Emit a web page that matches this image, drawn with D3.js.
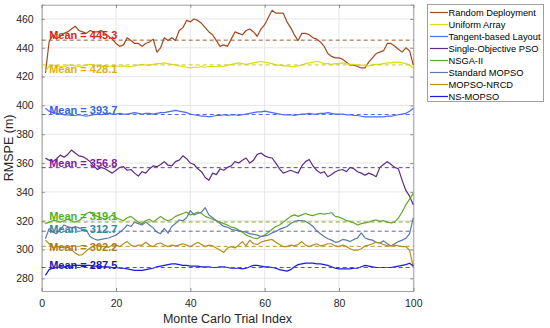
<!DOCTYPE html>
<html><head><meta charset="utf-8">
<script src="https://cdn.jsdelivr.net/npm/d3@7"></script>
<style>body{margin:0;background:#fff}svg{display:block}text{font-family:"Liberation Sans",Arial,Helvetica,sans-serif}</style>
</head><body><svg id="c" width="550" height="328"></svg>
<script>
const seriesNames = ["Random Deployment","Uniform Array","Tangent-based Layout","Single-Objective PSO","NSGA-II","Standard MOPSO","MOPSO-NRCD","NS-MOPSO"];
const meanValues = [445.3, 428.1, 393.7, 356.8, 319.1, 312.7, 302.2, 287.5];
const xTicks = [0,20,40,60,80,100];
const yTicks = [280,300,320,340,360,380,400,420,440,460];
const randomDeployment = [422.5,444,449,446,448,450,451,453,455,452,451,450,452,451,451,452,450,448,446,443,441,442,447,445,443,443,441,443,444,446,437,440,447,445,447,445,452,454,459,458,460,459,457,454,451,449,445,441,442,441,446,451,450,449,452,453,451,448,453,456,461,466,464,464,464,458,454,449,445,450,450,449,447,446,444,441,436,434,433,433,432,430,428,428,427,426,426,430,433,436,437,438,443,443,441,439,437,440,438,428];
const uniformArray = [424,427,428,427.5,427,427,428,428,427.5,427,427.5,428,428.5,428,428,427.5,427,427,427.5,427.5,427,427.5,427,427,427.5,428,428.5,428,428,428.5,429,429,429.5,429,428.5,428,427.5,427,426.5,426,426.5,426.5,427,426.5,427,427,427,427.5,427,428,428.5,429,429.5,429,428.5,429,429.5,430,430.5,430,429.5,429,428,428,427.5,427.5,427,427,427.5,428,429,429.5,430,430.5,430,429,429,428.5,429,429,429.5,429,428.5,428.5,428,428,427.5,427.5,428,428.5,428.5,429,429.5,429.5,430,430,429.5,429,428,426];
const tangentLayout = [398,396,395,394.5,394,393.5,393.5,393,393,393.5,393,392.5,393,393.5,394,393.5,394,394.5,394,394,394.5,394,394,394.5,395,394.5,394,394.5,394.5,394,394.5,395,395,395.5,396,396.5,396,395.5,395,394,393.5,393,392.5,392.5,392,392.5,393,393,393.5,393,393.5,393.5,393,393.5,394,394.5,395,395.5,395.5,396,395.5,395,394.5,394,393.5,393.5,393.5,393,393.5,394,394,394.5,394,394,394.5,394.5,395,394.5,394,394,394,393.5,393.5,393,393,392.5,392,392,392,392,392,392,392.5,392.5,393,393.5,394,394.5,396,398];
const singlePSO = [363.4,362,361,363,365.5,364,366,369,367,365,364.5,363,361,358,355.5,357,356,354.5,353,355,357,357.5,355,355.5,353,351,354,353,356,358,357.5,359,361,358.5,358,361,362,365,363,360,359,356,354,350,348,353,352,356,355,357,358,361,360,362,363.5,360,362,366,367,365,364,363.5,360,356,353,354,355,354,353,358,361,362.5,358,355,353,354,350.5,352,354,355,355.5,354,357,356,354,353,351.5,353,352,350.5,357,359,361,359,357,356,348,341,337,331];
const nsga2 = [318,319,320,320,319,320,321,320,319,320,322,325,326,324,323,322,321,322,324,322,321,320,322,323,321,319,318,320,321,319,321,323,321,320,321,323,324,325,326,324,325,326,325,323,322,321,320,319,318,317,315.5,315,313.5,312,310,309,308,307.5,309,310,312,314,316,317,319,321,323,324,323,324,325,324,323.5,324.5,325,324.5,325,325.5,323,322.5,321.5,320,319.5,318.5,317,318,318.5,319,320,320.5,319.5,320,319,318.5,319,322,326,331,335,339];
const standardMOPSO = [307.5,314.5,312,311,314,317,316,315,316,315,314,313.5,309,307.5,306.5,307,307.5,308,309,310,312,314,317,316,319,318,317,319,317,315,312,311,314.7,311.3,316,318,320.5,320,322,327,324,325,326,329,324,322,320,318,316,315.5,314,313.5,313,312.5,312,311,310.5,310,309,309.5,310,311.5,312.5,314,315,316,318,319.5,320,320,319.5,318,316,313,311,309,307.5,306.5,305,305.5,307,306.5,305.5,307,308,311.5,308,307,306.5,305,304.5,306,304,302.5,304,305.5,306.5,307.8,311,322];
const mopsoNRCD = [306.5,304,301.5,302,302,301,302,300,297.5,296,296.5,299,301,302.5,303,302,302,301.5,303,303,302,304,305.5,303,302,303,303,305,303,302,304,304.5,303,302,303,302.5,303,304,303,302,303.5,305,303.5,302,303,302.5,301,299.5,298,301,302,301,303,305.5,302.5,306.5,304,303.5,305,306,306.5,307,305,303.5,302,302,303,302.5,303.5,305.5,303,302,303,304,302.5,303,304,304,302.5,302,303,302,300.5,299.5,299.5,300.5,302.5,303,304,305,304.5,303.5,302.5,302.5,303,302.5,302,302,299.5,288];
const nsMOPSO = [282,286,287,287.5,288,288,288.5,288.5,289,289,289,289,289,288.5,288.5,288,288,288,287.5,287.5,287,287,286.5,286,285.5,285.5,285.5,286,286.5,287,288,288.5,289,289.5,290,290,289.5,289,289,288.5,288.5,288.5,288,288,288,287.5,287.5,288,288,287.5,287,287,287,286.5,287,288,289,289,288.5,288,288,287.5,287,286,285.5,285,286,288,289.5,290,290.5,290.5,290.5,290,290,289.5,289,288,287,286.5,286.5,286.5,286.5,287,287,288,289,288.5,288,287.5,287.5,287.5,287.5,287.5,288,288.5,289,289.5,290.5,288.5];
const seriesValues = [randomDeployment, uniformArray, tangentLayout, singlePSO, nsga2, standardMOPSO, mopsoNRCD, nsMOPSO];

// styles
const lineColors = ["#a3491f","#dcdc12","#4a6cf0","#5b2a86","#5fa82a","#5a7aa8","#b38f1d","#1a1ae0"];
const dashColors = ["#9a5a2a","#c8c828","#5070e0","#6a3a9a","#88a030","#6262b0","#c09030","#5050c8"];
const labelColors = ["#d9261c","#e0b010","#3366dd","#7e1e9c","#4ab520","#2a8a9f","#b07a18","#1a1ab0"];
const labelOffsets = [-1, 8, 0, -1, -2, 1.5, 5, 1];

const svg = d3.select("#c");
const L = 41.7, R = 413.3, T = 4.7, B = 291;
const x = d3.scaleLinear().domain([0,100]).range([L,R]);
const y = d3.scaleLinear().domain([271.2,469.9]).range([B,T]);

// grid
const g = svg.append("g");
g.selectAll(".gx").data(xTicks).enter().append("line")
  .attr("x1",d=>x(d)).attr("x2",d=>x(d)).attr("y1",T).attr("y2",B)
  .attr("stroke","#e6e6e6").attr("stroke-width",1);
g.selectAll(".gy").data(yTicks).enter().append("line")
  .attr("x1",L).attr("x2",R).attr("y1",d=>y(d)).attr("y2",d=>y(d))
  .attr("stroke","#e6e6e6").attr("stroke-width",1);

// axes
const xAxis = d3.axisBottom(x).tickValues(xTicks).tickSize(-3).tickPadding(9);
const yAxis = d3.axisLeft(y).tickValues(yTicks).tickSize(-3).tickPadding(8);
svg.append("g").attr("transform",`translate(0,${B})`).call(xAxis);
svg.append("g").attr("transform",`translate(${L},0)`).call(yAxis);
svg.append("g").attr("transform",`translate(0,${T})`).call(d3.axisTop(x).tickValues(xTicks).tickSize(-3).tickFormat(""));
svg.append("g").attr("transform",`translate(${R},0)`).call(d3.axisRight(y).tickValues(yTicks).tickSize(-3).tickFormat(""));
svg.selectAll(".domain").attr("stroke","#a0a0a0");
svg.selectAll(".tick line").attr("stroke","#8a8a8a");
svg.selectAll(".tick text").attr("fill","#262626").style("font-size","10.5px");

// series
const line = d3.line().x((d,i)=>x(i+1)).y(d=>y(d));
seriesValues.forEach((vals,k)=>{
  svg.append("path").datum(vals).attr("d",line).attr("fill","none")
    .attr("stroke",lineColors[k]).attr("stroke-width",1.2).attr("stroke-linejoin","round");
});
// mean lines
meanValues.forEach((m,k)=>{
  svg.append("line").attr("x1",x(0)).attr("x2",x(100)).attr("y1",y(m)).attr("y2",y(m))
    .attr("stroke",dashColors[k]).attr("stroke-width",1).attr("stroke-dasharray","4,3");
});
meanValues.forEach((m,k)=>{
  svg.append("text").attr("x",x(2)).attr("y",y(m)+labelOffsets[k])
    .attr("fill",labelColors[k]).style("font-size","11px").style("font-weight","bold")
    .text("Mean = "+m.toFixed(1));
});

// axis labels
svg.append("text").attr("x",(L+R)/2).attr("y",323).attr("text-anchor","middle")
  .attr("fill","#262626").style("font-size","12.5px").text("Monte Carlo Trial Index");
svg.append("text").attr("transform",`translate(13,${(T+B)/2}) rotate(-90)`).attr("text-anchor","middle")
  .attr("fill","#262626").style("font-size","12.5px").text("RMSPE (m)");

// legend
const lg = svg.append("g");
lg.append("rect").attr("x",427.5).attr("y",4.5).attr("width",116).attr("height",97)
  .attr("fill","#fff").attr("stroke","#a0a0a0").attr("stroke-width",1);
seriesNames.forEach((n,k)=>{
  const cy = 12.5 + 12*k;
  lg.append("line").attr("x1",430).attr("x2",448).attr("y1",cy).attr("y2",cy)
    .attr("stroke",lineColors[k]).attr("stroke-width",1.2);
  lg.append("text").attr("x",448.5).attr("y",cy).attr("dy","0.35em")
    .attr("fill","#000").style("font-size","9.3px").text(n);
});
</script></body></html>
